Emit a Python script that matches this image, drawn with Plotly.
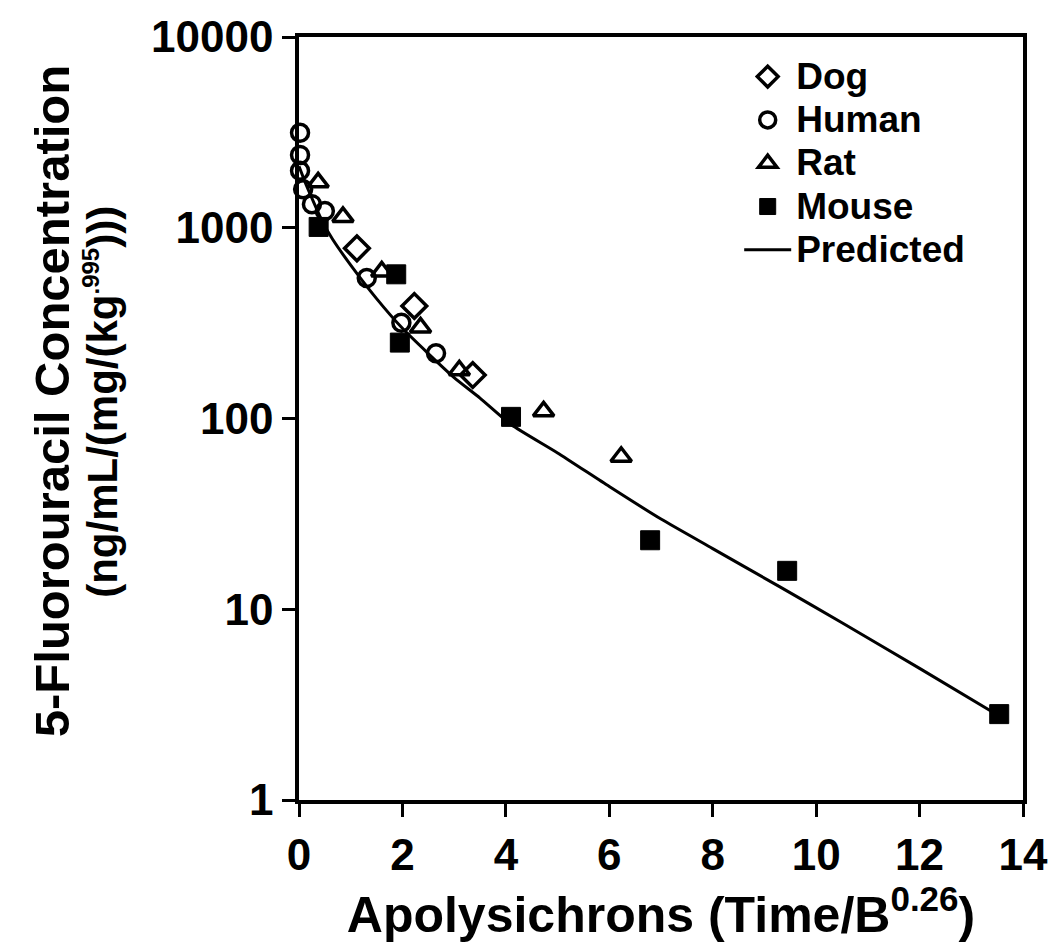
import plotly.graph_objects as go

# ---- data ----
dog_x = [1.12, 2.23, 3.36]
dog_y = [780, 389, 169]

human_x = [0.02, 0.02, 0.02, 0.08, 0.25, 0.50, 1.31, 1.98, 2.65]
human_y = [3150, 2410, 1990, 1590, 1330, 1225, 545, 318, 220]

rat_x = [0.37, 0.85, 1.60, 2.35, 3.10, 4.73, 6.23]
rat_y = [1730, 1140, 590, 300, 179, 109, 63]

mouse_x = [0.38, 1.88, 1.95, 4.10, 6.79, 9.44, 13.54]
mouse_y = [1010, 570, 250, 102, 23, 15.9, 2.82]

pred_x = [0.0, 0.15, 0.3, 0.45, 0.65, 1.0, 1.5, 2.0, 2.5, 3.0, 3.5, 4.1,
          5.0, 6.0, 7.0, 8.0, 9.3, 10.5, 12.0, 13.5]
pred_y = [2100, 1650, 1330, 1080, 870, 637, 425, 297, 219, 164, 128, 93,
          66, 44, 29.7, 20.8, 13.1, 8.5, 4.9, 2.8]

x_ticks = [0, 2, 4, 6, 8, 10, 12, 14]
y_ticks = [1, 10, 100, 1000, 10000]
y_tick_text = ["1", "10", "100", "1000", "10000"]

series_names = ["Dog", "Human", "Rat", "Mouse", "Predicted"]

FONT = "Liberation Sans, Arial, Helvetica, sans-serif"


def legend_label(s):
    return "<span style='font-size:37px'>" + s + "</span>"


fig = go.Figure()

mk_line = dict(color="black", width=3.5)
fig.add_trace(go.Scatter(x=dog_x, y=dog_y, mode="markers", name=legend_label(series_names[0]),
                         marker=dict(symbol="diamond-open", size=19, color="black", line=mk_line),
                         cliponaxis=False))
fig.add_trace(go.Scatter(x=human_x, y=human_y, mode="markers", name=legend_label(series_names[1]),
                         marker=dict(symbol="circle-open", size=17, color="black", line=mk_line),
                         cliponaxis=False))
fig.add_trace(go.Scatter(x=rat_x, y=rat_y, mode="markers", name=legend_label(series_names[2]),
                         marker=dict(symbol="triangle-up-open", size=18, color="black", line=mk_line),
                         cliponaxis=False))
fig.add_trace(go.Scatter(x=mouse_x, y=mouse_y, mode="markers", name=legend_label(series_names[3]),
                         marker=dict(symbol="square", size=19, color="black", line=dict(color="black", width=1)),
                         cliponaxis=False))
fig.add_trace(go.Scatter(x=pred_x, y=pred_y, mode="lines", name=legend_label(series_names[4]),
                         line=dict(color="black", width=3, shape="spline", smoothing=0.6)))

axis_common = dict(showline=True, linecolor="black", linewidth=3.5, mirror=True,
                   ticks="outside", ticklen=13, tickwidth=3, tickcolor="black",
                   showgrid=False, zeroline=False,
                   tickfont=dict(family=FONT, size=44, color="black", weight="bold"))

fig.update_layout(
    width=1060, height=947, autosize=False,
    margin=dict(l=299, r=31, t=29, b=147, pad=0),
    paper_bgcolor="white", plot_bgcolor="white",
    font=dict(family=FONT, color="black", weight="bold"),
    xaxis=dict(range=[0, 14], tickvals=x_ticks,
               title=dict(text="Apolysichrons (Time/B<sup>0.26</sup>)",
                          font=dict(family=FONT, size=50, color="black", weight="bold"),
                          standoff=2),
               **axis_common),
    yaxis=dict(type="log", range=[0, 4], tickvals=y_ticks, ticktext=y_tick_text,
               **axis_common),
    legend=dict(x=0.608, y=0.983, xanchor="left", yanchor="top",
                bgcolor="rgba(0,0,0,0)", borderwidth=0,
                font=dict(family=FONT, size=31, color="black", weight="bold"),
                itemwidth=47, tracegroupgap=0),
    showlegend=True,
)

# y-axis title (two lines, placed individually to match the tight line spacing)
fig.add_annotation(text="5-Fluorouracil Concentration", textangle=-90,
                   xref="paper", yref="paper", x=(50 - 299) / 730, y=(800 - 397) / 771,
                   xanchor="center", yanchor="middle", showarrow=False,
                   font=dict(family=FONT, size=49, color="black", weight="bold"))
fig.add_annotation(text="(ng/mL/(mg/(kg<sup><span style='font-size:24px'>.995</span></sup>)))",
                   textangle=-90,
                   xref="paper", yref="paper", x=(100 - 299) / 730, y=(800 - 398) / 771,
                   xanchor="center", yanchor="middle", showarrow=False,
                   font=dict(family=FONT, size=42, color="black", weight="bold"))

fig.write_html("out.html")
